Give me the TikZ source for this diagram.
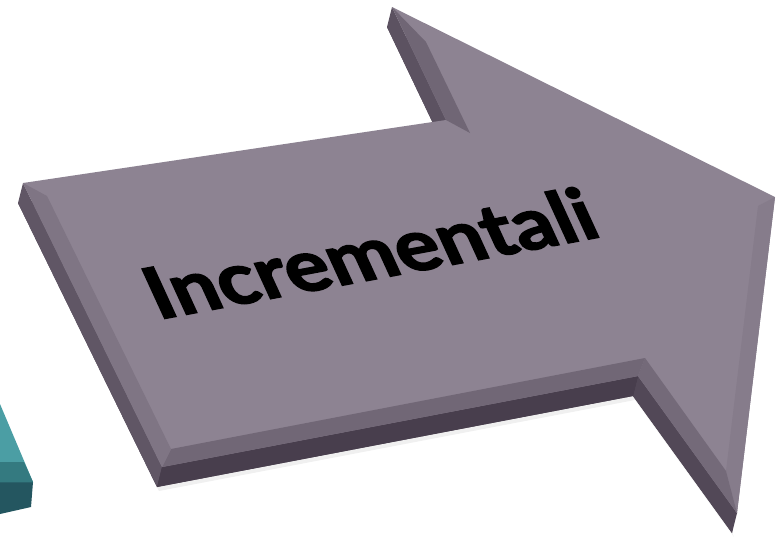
\documentclass[tikz,border=0pt]{standalone}
\usepackage{fontspec}
\usetikzlibrary{calc}
\newfontfamily\lblfont{Lato}[BoldFeatures={FakeBold=2.2}]
\definecolor{faceC}{RGB}{141,131,146}
\definecolor{bevRight}{RGB}{134,124,139}
\definecolor{bevLeft}{RGB}{127,117,132}
\definecolor{bevBarb}{RGB}{112,102,117}
\definecolor{bevLow}{RGB}{116,106,121}
\definecolor{bevBot}{RGB}{113,103,118}
\definecolor{sideLeft}{RGB}{96,86,101}
\definecolor{sideBarb}{RGB}{92,82,97}
\definecolor{sideLow}{RGB}{82,72,87}
\definecolor{sideBot}{RGB}{72,62,77}
\definecolor{tealTop}{RGB}{75,158,164}
\definecolor{tealBev}{RGB}{52,122,128}
\definecolor{tealSide}{RGB}{36,86,96}
\tikzset{
  label text/.style={font=\lblfont\bfseries\fontsize{73}{80}\selectfont, text=black, inner sep=0pt}
}
\begin{document}
\begin{tikzpicture}[x=1pt,y=-1pt]
\useasboundingbox (0,0) rectangle (777,539);
\fill[white] (0,0) rectangle (777,539);
% teal piece
\fill[tealSide] (0,482) -- (33,482) -- (31,507) -- (0,514) -- cycle;
\fill[tealTop] (0,404) -- (33,482) -- (0,482) -- cycle;
\fill[tealBev] (0,462) -- (24,462) -- (33,482) -- (0,482) -- cycle;
% top face corners
\coordinate (A) at (23,183);
\coordinate (B) at (446,120);
\coordinate (C) at (392,7);
\coordinate (D) at (775,197);
\coordinate (E) at (737,513);
\coordinate (F) at (638,376);
\coordinate (G) at (162,467);
% back face corners
\coordinate (A2) at (18,203);
\coordinate (B2) at (441,140);
\coordinate (C2) at (387,27);
\coordinate (D2) at (770,217);
\coordinate (E2) at (732,533);
\coordinate (F2) at (633,396);
\coordinate (G2) at (157,487);
% inner (bevel) corners
\coordinate (IA) at (47,196);
\coordinate (IB) at (470,133);
\coordinate (IC) at (426,42);
\coordinate (ID) at (758,206);
\coordinate (IE) at (726,471);
\coordinate (IF) at (645,358);
\coordinate (IG) at (171,449);
% soft shadow
\fill[black,opacity=0.06] ($(G2)+(2,4)$) -- ($(F2)+(2,4)$) -- ($(E2)+(2,4)$) -- (E2) -- (F2) -- (G2) -- cycle;
% back face
\fill[sideBot] (A2) -- (B2) -- (C2) -- (D2) -- (E2) -- (F2) -- (G2) -- cycle;
% side faces
\fill[sideLeft] (G) -- (A) -- (A2) -- (G2) -- cycle;
\fill[sideBarb] (B) -- (C) -- (C2) -- (B2) -- cycle;
\fill[sideLow] (E) -- (F) -- (F2) -- (E2) -- cycle;
\fill[sideBot] (F) -- (G) -- (G2) -- (F2) -- cycle;
% top face
\fill[faceC] (A) -- (B) -- (C) -- (D) -- (E) -- (F) -- (G) -- cycle;
% bevel bands on the lower and left edges
\fill[bevBarb] (B) -- (C) -- (IC) -- (IB) -- cycle;
\fill[bevRight] (D) -- (E) -- (IE) -- (ID) -- cycle;
\fill[bevLow] (E) -- (F) -- (IF) -- (IE) -- cycle;
\fill[bevBot] (F) -- (G) -- (IG) -- (IF) -- cycle;
\fill[bevLeft] (G) -- (A) -- (IA) -- (IG) -- cycle;
% label
\node[label text, anchor=base, rotate=10.6, xslant=-0.25, xscale=1.12] (lbl) at (381,278) {Incrementali};
\end{tikzpicture}
\end{document}
